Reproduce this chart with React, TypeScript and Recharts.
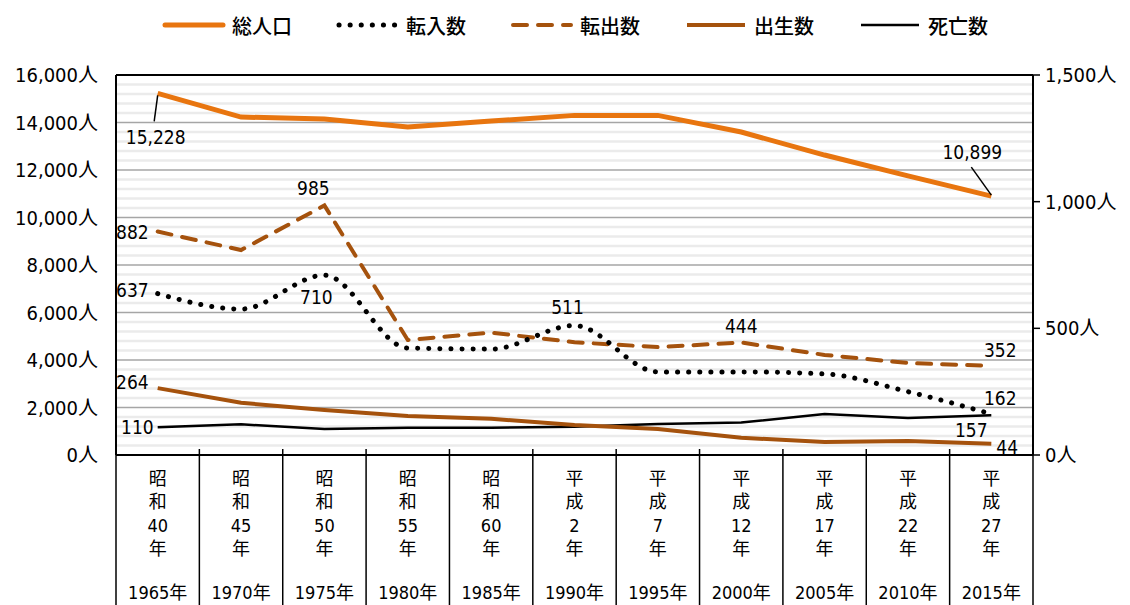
import React from "react";
import { LineChart, Line, XAxis, YAxis, Legend, ReferenceLine, LabelList } from "recharts";

const eras = ["昭和", "昭和", "昭和", "昭和", "昭和", "平成", "平成", "平成", "平成", "平成", "平成"];
const eraYears = ["40", "45", "50", "55", "60", "2", "7", "12", "17", "22", "27"];
const years = ["1965年", "1970年", "1975年", "1980年", "1985年", "1990年", "1995年", "2000年", "2005年", "2010年", "2015年"];

const totalPop = [15228, 14230, 14150, 13810, 14060, 14300, 14300, 13600, 12630, 11750, 10899];
const moveIn = [637, 576, 710, 422, 418, 511, 328, 328, 320, 250, 162];
const moveOut = [882, 809, 985, 454, 483, 445, 426, 444, 395, 363, 352];
const births = [264, 206, 178, 154, 143, 118, 103, 68, 51, 55, 44];
const deaths = [110, 121, 103, 108, 108, 112, 122, 128, 162, 146, 157];

const leftTicks = [0, 2000, 4000, 6000, 8000, 10000, 12000, 14000, 16000];
const rightTicks = [0, 500, 1000, 1500];

const data = years.map((y, i) => ({
  year: y,
  era: eras[i],
  eraYear: eraYears[i],
  総人口: totalPop[i],
  転入数: moveIn[i],
  転出数: moveOut[i],
  出生数: births[i],
  死亡数: deaths[i],
}));

const FONT = '"Liberation Sans Narrow", "DejaVu Sans Condensed", "Noto Sans CJK JP", sans-serif';
const ORANGE = "#E8750F";
const BROWN = "#A5520D";

const W = 1130;
const H = 605;
const LEFT_W = 116;
const RIGHT_W = 97;
const AXIS_H = 150;
const BAND = (W - LEFT_W - RIGHT_W) / years.length;

// minor gridlines every 400 between the major ones
const minorGrid: number[] = [];
for (let v = 400; v < 16000; v += 400) if (v % 2000 !== 0) minorGrid.push(v);

const fmt = (v: number) => v.toLocaleString("en-US") + "人";

type Spec = { dx: number; dy: number; anchor: "start" | "middle" | "end"; leader?: [number, number, number, number] };

const makeLabel = (specs: Record<number, Spec>) => (p: any) => {
  const s = specs[p.index];
  if (!s) return null;
  const x = Number(p.x);
  const y = Number(p.y);
  return (
    <g>
      {s.leader && (
        <line x1={x + s.leader[0]} y1={y + s.leader[1]} x2={x + s.leader[2]} y2={y + s.leader[3]} stroke="#000" strokeWidth={1.5} />
      )}
      <text x={x + s.dx} y={y + s.dy} textAnchor={s.anchor} dominantBaseline="central" fontSize={19} fontFamily={FONT} fill="#000">
        {Number(p.value).toLocaleString("en-US")}
      </text>
    </g>
  );
};

const CategoryTick = (props: any) => {
  const { x, y, index, payload } = props;
  const d = data[index];
  const left = x - BAND / 2;
  const chars = [d.era[0], d.era[1], d.eraYear, "年"];
  return (
    <g>
      <line x1={left} y1={y - 6} x2={left} y2={y + AXIS_H} stroke="#000" strokeWidth={1.5} />
      {index === data.length - 1 && (
        <line x1={x + BAND / 2} y1={y} x2={x + BAND / 2} y2={y + AXIS_H} stroke="#000" strokeWidth={1.5} />
      )}
      {chars.map((c, i) => (
        <text key={i} x={x} y={y + 23 + i * 23.5} textAnchor="middle" dominantBaseline="central" fontSize={18} fontFamily={FONT} fill="#000">
          {c}
        </text>
      ))}
      <text x={x} y={y + 137} textAnchor="middle" dominantBaseline="central" fontSize={18} fontFamily={FONT} fill="#000">
        {payload.value}
      </text>
    </g>
  );
};

const legendItems = [
  { name: "総人口", color: ORANGE, width: 5, dash: undefined as string | undefined, cap: "round" },
  { name: "転入数", color: "#000", width: 5, dash: "0.1 11", cap: "round" },
  { name: "転出数", color: BROWN, width: 4, dash: "14 11", cap: "round" },
  { name: "出生数", color: BROWN, width: 4, dash: undefined, cap: "butt" },
  { name: "死亡数", color: "#000", width: 2.5, dash: undefined, cap: "butt" },
];

const renderLegend = () => (
  <div style={{ width: W, height: 75, display: "flex", alignItems: "flex-start", paddingLeft: 162, boxSizing: "border-box" }}>
    {legendItems.map((it) => (
      <div key={it.name} style={{ display: "flex", alignItems: "center", height: 50, marginRight: 44 }}>
        <svg width={64} height={12}>
          <line x1={3} y1={6} x2={61} y2={6} stroke={it.color} strokeWidth={it.width} strokeDasharray={it.dash} strokeLinecap={it.cap as any} />
        </svg>
        <span style={{ fontFamily: FONT, fontSize: 20, fontWeight: 500, color: "#000", marginLeft: 6 }}>{it.name}</span>
      </div>
    ))}
  </div>
);

const App = () => {
  return (
    <div style={{ position: "absolute", left: 0, top: 0, width: W, height: H, background: "#fff" }}>
      <LineChart width={W} height={H} data={data} margin={{ top: 0, right: 0, bottom: 0, left: 0 }}>
        <Legend verticalAlign="top" content={renderLegend} wrapperStyle={{ left: 0, top: 0, width: W }} />
        <XAxis
          dataKey="year"
          interval={0}
          height={AXIS_H}
          padding={{ left: BAND / 2, right: BAND / 2 }}
          tickLine={false}
          tickSize={0}
          tickMargin={0}
          axisLine={{ stroke: "#000", strokeWidth: 2 }}
          tick={<CategoryTick />}
        />
        <YAxis
          yAxisId="left"
          domain={[0, 16000]}
          ticks={leftTicks}
          width={LEFT_W}
          tickLine={false}
          tickSize={8}
          tickMargin={10}
          axisLine={{ stroke: "#000", strokeWidth: 2 }}
          tickFormatter={fmt}
          tick={{ fill: "#000", fontSize: 20, fontFamily: FONT }}
        />
        <YAxis
          yAxisId="right"
          orientation="right"
          domain={[0, 1500]}
          ticks={rightTicks}
          width={RIGHT_W}
          tickSize={7}
          tickMargin={5}
          tickLine={{ stroke: "#000", strokeWidth: 1.5 }}
          axisLine={{ stroke: "#000", strokeWidth: 2 }}
          tickFormatter={fmt}
          tick={{ fill: "#000", fontSize: 20, fontFamily: FONT }}
        />
        {minorGrid.map((v) => (
          <ReferenceLine key={"m" + v} yAxisId="left" y={v} stroke="#EBEBEB" strokeWidth={2.5} />
        ))}
        {leftTicks.slice(1, -1).map((v) => (
          <ReferenceLine key={"g" + v} yAxisId="left" y={v} stroke="#A6A6A6" strokeWidth={1.5} />
        ))}
        <ReferenceLine yAxisId="left" y={16000} stroke="#000" strokeWidth={2} />

        <Line yAxisId="right" dataKey="死亡数" type="linear" stroke="#000" strokeWidth={2.5} dot={false} isAnimationActive={false}>
          <LabelList
            dataKey="死亡数"
            content={makeLabel({ 0: { dx: -4, dy: 0, anchor: "end" }, 10: { dx: -20, dy: 15, anchor: "middle" } })}
          />
        </Line>
        <Line yAxisId="right" dataKey="出生数" type="linear" stroke={BROWN} strokeWidth={4} dot={false} isAnimationActive={false}>
          <LabelList
            dataKey="出生数"
            content={makeLabel({ 0: { dx: -9, dy: -6, anchor: "end" }, 10: { dx: 5, dy: 3, anchor: "start" } })}
          />
        </Line>
        <Line
          yAxisId="right"
          dataKey="転出数"
          type="linear"
          stroke={BROWN}
          strokeWidth={4}
          strokeDasharray="14 11"
          strokeLinecap="round"
          dot={false}
          isAnimationActive={false}
        >
          <LabelList
            dataKey="転出数"
            content={makeLabel({
              0: { dx: -9, dy: 0, anchor: "end" },
              2: { dx: -11, dy: -17, anchor: "middle" },
              7: { dx: 0, dy: -17, anchor: "middle" },
              10: { dx: 9, dy: -16, anchor: "middle" },
            })}
          />
        </Line>
        <Line
          yAxisId="right"
          dataKey="転入数"
          type="monotone"
          stroke="#000"
          strokeWidth={5}
          strokeDasharray="0.1 11"
          strokeLinecap="round"
          dot={false}
          isAnimationActive={false}
        >
          <LabelList
            dataKey="転入数"
            content={makeLabel({
              0: { dx: -9, dy: -4, anchor: "end" },
              2: { dx: -8, dy: 22, anchor: "middle" },
              5: { dx: -7, dy: -19, anchor: "middle" },
              10: { dx: 9, dy: -16, anchor: "middle" },
            })}
          />
        </Line>
        <Line yAxisId="left" dataKey="総人口" type="linear" stroke={ORANGE} strokeWidth={5} dot={false} isAnimationActive={false}>
          <LabelList
            dataKey="総人口"
            content={makeLabel({
              0: { dx: -2, dy: 44, anchor: "middle", leader: [0, 2, -3.5, 28] },
              10: { dx: -19, dy: -44, anchor: "middle", leader: [-20, -29, 0, -1] },
            })}
          />
        </Line>
      </LineChart>
    </div>
  );
};

export default App;
